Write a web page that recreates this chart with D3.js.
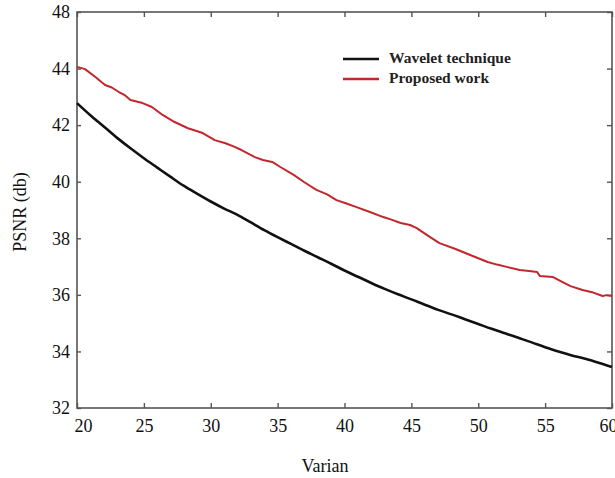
<!DOCTYPE html>
<html>
<head>
<meta charset="utf-8">
<script src="https://cdn.jsdelivr.net/npm/d3@7"></script>
<style>
  body { margin: 0; background: #fff; }
  svg { display: block; }
  svg text { font-family: "Liberation Serif", "Times New Roman", serif; }
</style>
</head>
<body>
<svg width="615" height="478"></svg>
<script>
const svg = d3.select("svg");

// tick values and the labels printed on them (top one reads 48 in the source)
const xTicks = [20, 25, 30, 35, 40, 45, 50, 55, 60];
const yTicks = [32, 34, 36, 38, 40, 42, 44, 46];
const yTickLabels = ["32", "34", "36", "38", "40", "42", "44", "48"];

const seriesNames = ["Wavelet technique", "Proposed work"];

// Wavelet technique
const waveletX = [20, 21, 22, 23, 24, 25, 26, 27, 28, 29, 30, 31, 32, 33, 34, 35, 36, 37, 38, 39, 40,
  41, 42, 43, 44, 45, 46, 47, 48, 49, 50, 51, 52, 53, 54, 55, 56, 57, 58, 59, 60];
const waveletY = [42.78, 42.35, 41.95, 41.55, 41.18, 40.83, 40.50, 40.17, 39.85, 39.57, 39.30,
  39.05, 38.83, 38.56, 38.29, 38.04, 37.80, 37.56, 37.33, 37.10, 36.86,
  36.64, 36.42, 36.21, 36.02, 35.84, 35.65, 35.47, 35.31, 35.14, 34.97,
  34.80, 34.64, 34.48, 34.32, 34.15, 34.00, 33.86, 33.74, 33.60, 33.45];

// Proposed work
const proposedX = [20, 20.6, 21.35, 22.1, 22.6, 23.1, 23.6, 24, 24.9, 25.6, 26.4, 27.3, 28.3, 29.4,
  30.3, 31.1, 31.7, 32.3, 33.3, 33.9, 34.6, 35.2, 36.2, 37, 37.9, 38.7, 39.4, 40.2, 40.9,
  41.9, 42.9, 43.5, 44.2, 44.9, 45.4, 46.4, 47.1, 48.3, 49.4, 50.7, 51.4, 52.2, 53.1,
  53.8, 54.4, 54.6, 55.6, 56.2, 56.9, 57.8, 58.6, 59.3, 59.6, 60];
const proposedY = [44.06, 43.98, 43.71, 43.42, 43.33, 43.18, 43.05, 42.89, 42.78, 42.64, 42.36,
  42.11, 41.89, 41.72, 41.47, 41.36, 41.25, 41.12, 40.87, 40.77, 40.70, 40.52, 40.24,
  39.98, 39.71, 39.55, 39.35, 39.22, 39.10, 38.93, 38.75, 38.66, 38.54, 38.47, 38.36,
  38.04, 37.83, 37.62, 37.41, 37.16, 37.07, 36.98, 36.88, 36.84, 36.81, 36.67, 36.63,
  36.48, 36.31, 36.17, 36.08, 35.96, 35.99, 35.96];

const seriesColors = ["#111111", "#c1272d"];

const margin = { left: 77, right: 3, top: 12, bottom: 70 };
const width = 615 - margin.left - margin.right;
const height = 478 - margin.top - margin.bottom;

const x = d3.scaleLinear().domain([20, 60]).range([margin.left, margin.left + width]);
const y = d3.scaleLinear().domain([32, 46]).range([margin.top + height, margin.top]);

const frameColor = "#555";
const serif = "'Liberation Serif', 'Times New Roman', serif";

// frame
svg.append("rect")
  .attr("x", x(20))
  .attr("y", y(46))
  .attr("width", x(60) - x(20))
  .attr("height", y(32) - y(46))
  .attr("fill", "none")
  .attr("stroke", frameColor)
  .attr("stroke-width", 1.6);

// axes with inward ticks
const xAxis = svg.append("g")
  .attr("transform", `translate(0,${y(32)})`)
  .call(d3.axisBottom(x).tickValues(xTicks).tickSize(-5).tickPadding(11).tickFormat(d3.format("d")));

const xAxisTop = svg.append("g")
  .attr("transform", `translate(0,${y(46)})`)
  .call(d3.axisTop(x).tickValues(xTicks).tickSize(-5).tickFormat(""));

const yAxis = svg.append("g")
  .attr("transform", `translate(${x(20)},0)`)
  .call(d3.axisLeft(y).tickValues(yTicks).tickSize(-4).tickPadding(8)
    .tickFormat((d, i) => yTickLabels[i]));

const yAxisRight = svg.append("g")
  .attr("transform", `translate(${x(60)},0)`)
  .call(d3.axisRight(y).tickValues(yTicks).tickSize(-5).tickFormat(""));

[xAxis, xAxisTop, yAxis, yAxisRight].forEach(g => {
  g.attr("font-family", null);
  g.select(".domain").remove();
  g.selectAll(".tick line").attr("stroke", frameColor).attr("stroke-width", 1.4);
  g.selectAll("text")
    .style("font-family", serif)
    .attr("font-size", 18)
    .attr("fill", "#111");
});
yAxis.selectAll("text").attr("dx", "1");
xAxis.selectAll("text").attr("dx", d => d === 20 ? 6 : d === 60 ? -4 : 0);

// lines
const line = d3.line()
  .x(d => x(d[0]))
  .y(d => y(d[1]));

const waveletPts = waveletX.map((v, i) => [v, waveletY[i]]);
const proposedPts = proposedX.map((v, i) => [v, proposedY[i]]);

svg.append("path")
  .datum(proposedPts)
  .attr("fill", "none")
  .attr("stroke", seriesColors[1])
  .attr("stroke-width", 2)
  .attr("stroke-linejoin", "round")
  .attr("d", line);

svg.append("path")
  .datum(waveletPts)
  .attr("fill", "none")
  .attr("stroke", seriesColors[0])
  .attr("stroke-width", 2.6)
  .attr("stroke-linejoin", "round")
  .attr("d", d3.line().curve(d3.curveMonotoneX).x(d => x(d[0])).y(d => y(d[1])));

// legend
const legend = svg.append("g").attr("transform", "translate(343,59)");
seriesNames.forEach((name, i) => {
  const row = legend.append("g").attr("transform", `translate(0,${i * 20})`);
  row.append("line")
    .attr("x1", 0).attr("x2", 36)
    .attr("stroke", seriesColors[i])
    .attr("stroke-width", 2.6);
  row.append("text")
    .attr("x", 46)
    .attr("y", 4)
    .style("font-family", serif)
    .attr("font-size", 15.5)
    .attr("font-weight", "bold")
    .attr("fill", "#222")
    .text(name);
});

// axis titles
svg.append("text")
  .attr("x", 325)
  .attr("y", 472)
  .attr("text-anchor", "middle")
  .style("font-family", serif)
  .attr("font-size", 18)
  .attr("fill", "#111")
  .text("Varian");

svg.append("text")
  .attr("transform", "translate(26,212) rotate(-90)")
  .attr("text-anchor", "middle")
  .style("font-family", serif)
  .attr("font-size", 18)
  .attr("fill", "#111")
  .text("PSNR (db)");
</script>
</body>
</html>
